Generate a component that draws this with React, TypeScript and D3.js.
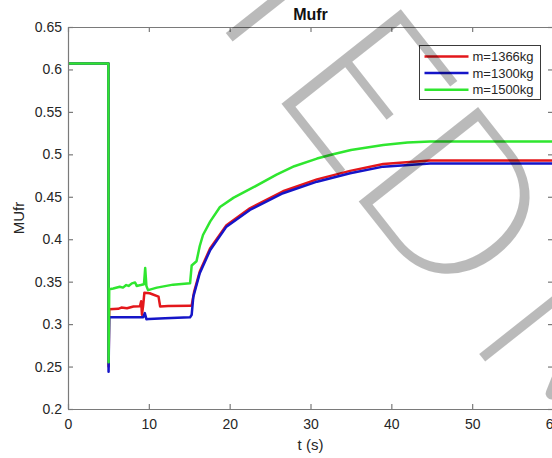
import { useEffect, useRef } from 'react'
import * as d3 from 'd3'

// Mufr vs time for three vehicle masses.
const W = 552, H = 458
const xTicks = [0, 10, 20, 30, 40, 50, 60]
const yTicks = [0.2, 0.25, 0.3, 0.35, 0.4, 0.45, 0.5, 0.55, 0.6, 0.65]

const seriesNames = ['m=1366kg', 'm=1300kg', 'm=1500kg']
const seriesColors = ['#e3171b', '#1515c8', '#2fe62f']

// [t, Mufr]
const red1366: [number, number][] = [
  [0, 0.607], [5, 0.607], [5.02, 0.25], [5.1, 0.3175], [6.2, 0.318], [6.6, 0.3195], [7.3, 0.3187],
  [8.1, 0.3207], [8.9, 0.321], [9.05, 0.327], [9.15, 0.311], [9.3, 0.322], [9.45, 0.337],
  [10.1, 0.3364], [11.2, 0.3324], [11.4, 0.3207], [12.4, 0.3212], [15.1, 0.3215], [15.3, 0.322],
  [15.6, 0.338], [16.3, 0.362], [17.6, 0.3895], [19.6, 0.4165], [22.5, 0.4365], [26.6, 0.4565],
  [30.8, 0.4705], [34.9, 0.4805], [39, 0.4885], [44.8, 0.4926], [60, 0.4926],
]
const blue1300: [number, number][] = [
  [0, 0.607], [5, 0.607], [5.02, 0.244], [5.1, 0.308], [9.3, 0.308], [9.5, 0.313], [9.7, 0.3058],
  [10, 0.306], [12, 0.307], [15.1, 0.308], [15.3, 0.311], [15.5, 0.332], [16.3, 0.36],
  [17.6, 0.3874], [19.6, 0.4148], [22.5, 0.4345], [26.6, 0.4542], [30.8, 0.4678], [34.9, 0.4777],
  [39, 0.4855], [44.8, 0.4893], [60, 0.4893],
]
const green1500: [number, number][] = [
  [0, 0.607], [5, 0.607], [5.02, 0.255], [5.1, 0.341], [5.6, 0.342], [6.4, 0.344], [6.8, 0.343],
  [7.2, 0.346], [7.5, 0.345], [7.9, 0.348], [8.3, 0.349], [8.5, 0.345], [9.0, 0.346], [9.4, 0.347],
  [9.55, 0.366], [9.7, 0.345], [9.9, 0.34], [11, 0.343], [13, 0.3465], [15.1, 0.348], [15.3, 0.369],
  [15.9, 0.374], [16.3, 0.392], [16.7, 0.405], [17.6, 0.421], [18.8, 0.438], [20.5, 0.449],
  [22.9, 0.461], [25.8, 0.476], [28, 0.486], [30.8, 0.495], [32.8, 0.5], [35, 0.505], [39, 0.511],
  [42, 0.514], [44.8, 0.515], [60, 0.515],
]
const series = [red1366, blue1300, green1500]

const FONT = '"Liberation Sans", Arial, Helvetica, sans-serif'
const AXIS = '#7a7a7a'
const TEXT = '#262626'

export default function App() {
  const ref = useRef<SVGSVGElement | null>(null)

  useEffect(() => {
    const svg = d3.select(ref.current)
    svg.selectAll('*').remove()

    const M = { top: 27, right: W - 553, bottom: H - 409, left: 68 }
    const x = d3.scaleLinear().domain([0, 60]).range([M.left, W - M.right])
    const y = d3.scaleLinear().domain([0.2, 0.65]).range([H - M.bottom, M.top])

    svg.append('rect').attr('width', W).attr('height', H).attr('fill', '#fff')

    // lines (red, blue, then green on top)
    const line = d3.line<[number, number]>().x(d => x(d[0])).y(d => y(d[1]))
    series.forEach((s, i) => {
      svg.append('path').datum(s)
        .attr('d', line)
        .attr('fill', 'none')
        .attr('stroke', seriesColors[i])
        .attr('stroke-width', 2.5)
        .attr('stroke-linejoin', 'round')
    })

    // axes box, ticks inside like MATLAB
    const styleAxis = (g: any) => {
      g.selectAll('path,line').attr('stroke', AXIS).attr('stroke-width', 1.2)
      g.selectAll('text').attr('fill', TEXT).attr('font-size', 14).attr('font-family', FONT)
    }
    svg.append('g').attr('transform', `translate(0,${y(0.2)})`)
      .call(d3.axisBottom(x).tickValues(xTicks).tickSize(-5).tickSizeOuter(0).tickPadding(10).tickFormat(d3.format('d')))
      .call(styleAxis)
    svg.append('g').attr('transform', `translate(${x(0)},0)`)
      .call(d3.axisLeft(y).tickValues(yTicks).tickSize(-5).tickSizeOuter(0).tickPadding(6).tickFormat(d => `${+(+d).toFixed(2)}`))
      .call(styleAxis)
    svg.append('g').attr('transform', `translate(0,${y(0.65)})`)
      .call(d3.axisTop(x).tickValues(xTicks).tickSize(-5).tickSizeOuter(0).tickFormat(() => ''))
      .call(styleAxis)
    svg.append('g').attr('transform', `translate(${x(60)},0)`)
      .call(d3.axisRight(y).tickValues(yTicks).tickSize(-5).tickSizeOuter(0).tickFormat(() => ''))
      .call(styleAxis)

    // title + axis labels
    svg.append('text').attr('x', (x(0) + x(60)) / 2).attr('y', 20)
      .attr('text-anchor', 'middle').attr('font-family', FONT).attr('font-weight', 700)
      .attr('font-size', 16).attr('fill', '#111').text('Mufr')
    svg.append('text').attr('x', (x(0) + x(60)) / 2).attr('y', 450)
      .attr('text-anchor', 'middle').attr('font-family', FONT)
      .attr('font-size', 15).attr('fill', TEXT).text('t (s)')
    svg.append('text')
      .attr('transform', `translate(24,${(y(0.2) + y(0.65)) / 2}) rotate(-90)`)
      .attr('text-anchor', 'middle').attr('font-family', FONT)
      .attr('font-size', 15).attr('fill', TEXT).text('MUfr')

    // legend
    const lg = svg.append('g').attr('transform', 'translate(419.5,45.5)')
    lg.append('rect').attr('width', 121).attr('height', 54)
      .attr('fill', '#fff').attr('stroke', '#3a3a3a').attr('stroke-width', 1)
    seriesNames.forEach((name, i) => {
      const yy = 11 + i * 16.6
      lg.append('line').attr('x1', 5).attr('x2', 49).attr('y1', yy).attr('y2', yy)
        .attr('stroke', seriesColors[i]).attr('stroke-width', 2.5)
      lg.append('text').attr('x', 53).attr('y', yy + 4.5)
        .attr('font-family', FONT).attr('font-size', 13).attr('fill', TEXT).text(name)
    })

    // watermark over everything
    const wm = svg.append('g')
      .attr('transform', 'translate(287,100) rotate(51.7)')
      .attr('fill', '#000').attr('fill-opacity', 0.27)
      .attr('font-family', 'Lato, "Noto Sans", sans-serif').attr('font-weight', 300).attr('font-size', 215)
    wm.append('text').attr('x', 265).attr('y', 6.5).attr('text-anchor', 'end').text('ACCEPTED')
    wm.append('text').attr('x', 296).attr('y', 6.5).text('MANUSCRIPT')
  }, [])

  return (
    <div style={{ position: 'fixed', left: 0, top: 0 }}>
      <svg ref={ref} width={W} height={H} style={{ display: 'block' }} />
    </div>
  )
}
